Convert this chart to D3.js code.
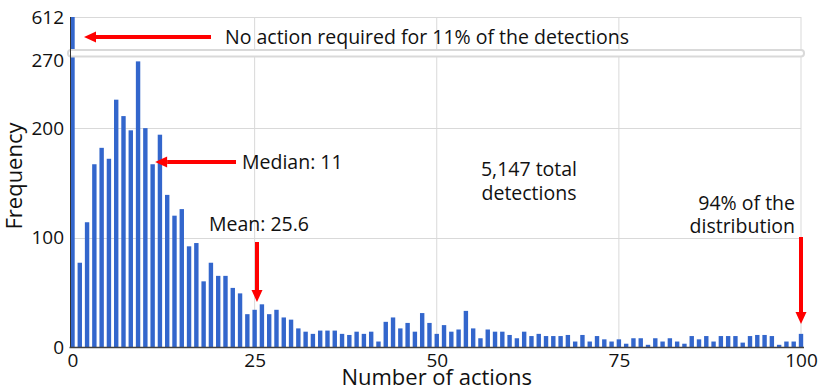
<!DOCTYPE html>
<html>
<head>
<meta charset="utf-8">
<script src="https://cdn.jsdelivr.net/npm/d3@7"></script>
<style>
  body { margin: 0; background: #fff; }
  text { font-family: "Open Sans", sans-serif; fill: #111; }
</style>
</head>
<body>
<script>
var w = 830;
var h = 388;

// number of actions per detection (0..100) and how often each occurs
var actions = d3.range(0, 101);
var frequency = [
  612, 77, 114, 167, 182, 172, 226, 211, 198, 261,
  200, 167, 194, 139, 120, 126, 92, 95, 60, 77,
  65, 65, 54, 49, 30, 34, 39, 30, 34, 27,
  25, 17, 14, 12, 15, 15, 15, 12, 11, 14,
  12, 14, 5, 23, 27, 17, 22, 14, 31, 22,
  12, 20, 14, 16, 33, 17, 8, 16, 14, 14,
  11, 8, 14, 10, 12, 10, 10, 10, 11, 5,
  11, 5, 10, 7, 5, 7, 3, 8, 8, 2,
  8, 5, 8, 5, 3, 10, 7, 10, 5, 10,
  10, 10, 4, 10, 11, 11, 10, 2, 5, 5,
  12
];

var xTicks = [0, 25, 50, 75, 100];
var lowTicks = [0, 100, 200, 262];          // last one marks the top of the lower panel
var lowTickLabels = ["0", "100", "200", "270"];
var highTicks = [612];
var highTickLabels = ["612"];

var median = 11;
var mean = 25.6;
var total = 5147;

var blue = "#3366cc";
var grid = "#d9d9d9";
var red = "#ff0000";

var svg = d3.select("body").append("svg")
    .attr("width", w)
    .attr("height", h);

// x scale: one bar per action count
var x = d3.scaleLinear().domain([0, 100]).range([72.5, 801]);

// broken y axis: lower part 0..265, upper part shows the tall zero bar
var yLow = d3.scaleLinear().domain([0, 265]).range([347, 57]);
var yHigh = d3.scaleLinear().domain([560, 612]).range([49, 17]);
function y(v) { return v > 265 ? yHigh(v) : yLow(v); }

// gridlines
svg.append("g").selectAll("line")
    .data(xTicks.slice(1))
    .enter().append("line")
    .attr("x1", function(d) { return x(d); })
    .attr("x2", function(d) { return x(d); })
    .attr("y1", yHigh(612))
    .attr("y2", yLow(0))
    .attr("stroke", grid);

svg.append("g").selectAll("line")
    .data([yLow(100), yLow(200), yHigh(612)])
    .enter().append("line")
    .attr("x1", x(0) - 2)
    .attr("x2", x(100))
    .attr("y1", function(d) { return Math.round(d) + 0.5; })
    .attr("y2", function(d) { return Math.round(d) + 0.5; })
    .attr("stroke", grid);

// bars
svg.append("g").selectAll("rect")
    .data(actions)
    .enter().append("rect")
    .attr("x", function(d) { return x(d) - 2.2; })
    .attr("width", 4.4)
    .attr("y", function(d, i) { return y(frequency[i]); })
    .attr("height", function(d, i) { return yLow(0) - y(frequency[i]); })
    .attr("fill", blue);

// break band
svg.append("rect")
    .attr("x", 68)
    .attr("y", 50)
    .attr("width", 736)
    .attr("height", 6.5)
    .attr("rx", 3)
    .attr("fill", "#fff")
    .attr("stroke", grid)
    .attr("stroke-width", 2);

// axis lines
svg.append("line")
    .attr("x1", x(0) - 2).attr("x2", x(0) - 2)
    .attr("y1", yHigh(612)).attr("y2", yLow(0))
    .attr("stroke", "#333").attr("stroke-width", 1);
svg.append("line")
    .attr("x1", x(0) - 3).attr("x2", x(100) + 3)
    .attr("y1", yLow(0) + 0.5).attr("y2", yLow(0) + 0.5)
    .attr("stroke", "#404040").attr("stroke-width", 1.5);

// y axes
var yAxisLow = d3.axisLeft(yLow)
    .tickValues(lowTicks)
    .tickSize(0)
    .tickPadding(0)
    .tickFormat(function(d, i) { return lowTickLabels[i]; });
var yAxisHigh = d3.axisLeft(yHigh)
    .tickValues(highTicks)
    .tickSize(0)
    .tickPadding(0)
    .tickFormat(function(d, i) { return highTickLabels[i]; });

[yAxisLow, yAxisHigh].forEach(function(ax) {
  var g = svg.append("g").attr("transform", "translate(64,0)").call(ax);
  g.select(".domain").remove();
  g.selectAll("text")
      .attr("font-family", "Open Sans, sans-serif")
      .attr("font-size", 19)
      .attr("fill", "#111");
});

// x axis
var xAxis = d3.axisBottom(x)
    .tickValues(xTicks)
    .tickSize(0)
    .tickPadding(5)
    .tickFormat(d3.format("d"));
var gx = svg.append("g").attr("transform", "translate(0,348)").call(xAxis);
gx.select(".domain").remove();
gx.selectAll("text")
    .attr("font-family", "Open Sans, sans-serif")
    .attr("font-size", 19)
    .attr("fill", "#111");

// axis titles
svg.append("text")
    .attr("x", x(50))
    .attr("y", 385)
    .attr("text-anchor", "middle")
    .attr("font-size", 22)
    .text("Number of actions");
svg.append("text")
    .attr("transform", "translate(22,176) rotate(-90)")
    .attr("text-anchor", "middle")
    .attr("font-size", 22)
    .text("Frequency");

// red arrows
function arrow(x1, y1, x2, y2) {
  var a = Math.atan2(y2 - y1, x2 - x1);
  var len = 12, half = 5.5;
  var bx = x2 - len * Math.cos(a), by = y2 - len * Math.sin(a);
  svg.append("line")
      .attr("x1", x1).attr("y1", y1)
      .attr("x2", bx).attr("y2", by)
      .attr("stroke", red).attr("stroke-width", 4);
  svg.append("path")
      .attr("d", "M" + x2 + "," + y2 +
        "L" + (bx + half * Math.sin(a)) + "," + (by - half * Math.cos(a)) +
        "L" + (bx - half * Math.sin(a)) + "," + (by + half * Math.cos(a)) + "Z")
      .attr("fill", red);
}

arrow(211, 37, x(0) + 11.5, 37);
arrow(236, 162, x(median) + 2.5, 162);
arrow(x(mean) - 2, 242, x(mean) - 2, 302);
arrow(x(100), 237, x(100), 324);

// annotation text
var fs = 19.5;
svg.append("text").attr("x", 225).attr("y", 44).attr("font-size", fs)
    .text("No action required for 11% of the detections");
svg.append("text").attr("x", 242).attr("y", 169).attr("font-size", fs)
    .text("Median: " + median);
svg.append("text").attr("x", x(mean)).attr("y", 231).attr("font-size", fs)
    .attr("text-anchor", "middle")
    .text("Mean: " + mean);
svg.append("text").attr("x", 529).attr("y", 176).attr("font-size", fs)
    .attr("text-anchor", "middle")
    .text(d3.format(",")(total) + " total");
svg.append("text").attr("x", 529).attr("y", 200).attr("font-size", fs)
    .attr("text-anchor", "middle")
    .text("detections");
svg.append("text").attr("x", 795).attr("y", 210).attr("font-size", fs)
    .attr("text-anchor", "end")
    .text("94% of the");
svg.append("text").attr("x", 795).attr("y", 233).attr("font-size", fs)
    .attr("text-anchor", "end")
    .text("distribution");
</script>
</body>
</html>
